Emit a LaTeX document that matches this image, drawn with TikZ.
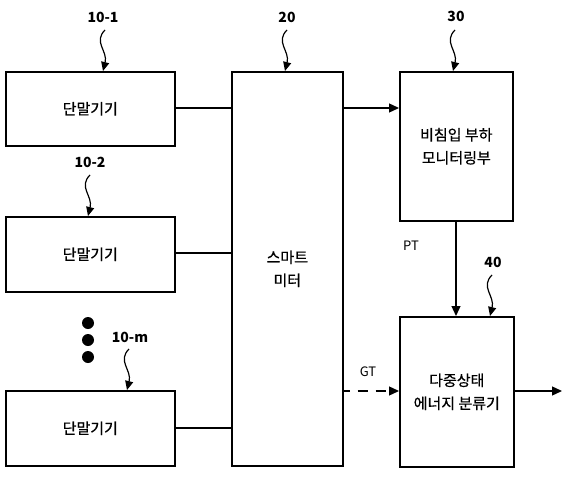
\documentclass[tikz,border=0pt]{standalone}
\usepackage{fontspec}
\setmainfont{Noto Sans CJK KR}
\newfontfamily\krm{Noto Sans CJK KR}[FakeBold=0.6]
\usetikzlibrary{arrows.meta,shadows,calc}
\begin{document}
\begin{tikzpicture}[x=1pt,y=-1pt,
  blk/.style={draw,line width=1.6pt,fill=white,inner sep=0pt,align=center,font=\krm\fontsize{15}{23}\selectfont,
     drop shadow={shadow xshift=1.5pt,shadow yshift=-1.5pt,fill=black!35,opacity=0.6}},
  conn/.style={line width=1.3pt},
  arr/.style={line width=1.3pt,-{Triangle[length=10pt,width=9pt]}},
  squig/.style={line width=1.2pt,-{Triangle[length=9pt,width=8pt]}},
  num/.style={font=\bfseries\fontsize{14}{16}\selectfont},
  sig/.style={font=\fontsize{13}{15}\selectfont}]
\useasboundingbox (0,0) rectangle (564,476);
% blocks
\node[blk,minimum width=169pt,minimum height=74pt,anchor=north west] (t1) at (5,71) {단말기기};
\node[blk,minimum width=169pt,minimum height=75pt,anchor=north west] (t2) at (5,216) {단말기기};
\node[blk,minimum width=169pt,minimum height=75pt,anchor=north west] (t3) at (5,390) {단말기기};
\node[blk,minimum width=111pt,minimum height=394pt,anchor=north west] (sm) at (231,71) {스마트\\미터};
\node[blk,minimum width=113pt,minimum height=149pt,anchor=north west] (nm) at (399,71) {비침입 부하\\모니터링부};
\node[blk,minimum width=114pt,minimum height=150pt,anchor=north west] (mc) at (399,316) {다중상태\\에너지 분류기};
% connectors
\draw[conn] (t1.east |- 0,108) -- (sm.west |- 0,108);
\draw[conn] (t2.east |- 0,253) -- (sm.west |- 0,253);
\draw[conn] (t3.east |- 0,428) -- (sm.west |- 0,428);
\draw[arr] (sm.east |- 0,108) -- (nm.west |- 0,108);
\draw[arr] (nm.south -| 456,0) -- (mc.north -| 456,0);
\draw[arr,dash pattern=on 10pt off 8pt,dash phase=4pt] (sm.east |- 0,391) -- (mc.west |- 0,391);
\coordinate (out) at (562,391);
\draw[arr] (mc.east |- 0,391) -- (out);
% labels
\node[sig] (pt) at (411,246) {PT};
\node[sig] (gt) at (368,372) {GT};
\node[num] (l1) at (103,17) {10-1};
\node[num] (l2) at (90,162) {10-2};
\node[num] (lm) at (130,337) {10-m};
\node[num] (l20) at (287,17) {20};
\node[num] (l30) at (456,16) {30};
\node[num] (l40) at (493,262) {40};
% squiggle arrows
\coordinate (a1) at (103,71);
\coordinate (a2) at (88,216);
\coordinate (am) at (127,390);
\coordinate (a20) at (285,71);
\coordinate (a30) at (453,71);
\coordinate (a40) at (490,316);
\foreach \t in {a1,a2,am,a20,a30,a40}{
  \draw[squig] ($(\t)+(2,-41)$) .. controls +(-12,12) and +(5,-20) .. (\t);
}
% dots
\foreach \yy [count=\i] in {323,340,357}{
  \fill (88,\yy) circle (6pt) coordinate (d\i);
}
\end{tikzpicture}
\end{document}
